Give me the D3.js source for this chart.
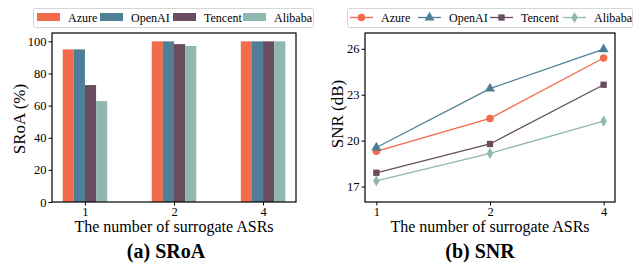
<!DOCTYPE html>
<html>
<head>
<meta charset="utf-8">
<script src="https://cdn.jsdelivr.net/npm/d3@7"></script>
<style>
    body { margin: 0; background: #fff; }
    svg text { font-family: "Liberation Serif", "DejaVu Serif", serif; fill: #000; }
</style>
</head>
<body>
<svg id="chart" width="639" height="263"></svg>
<script>
// data
var groups = ["1", "2", "4"];
var services = ["Azure", "OpenAI", "Tencent", "Alibaba"];
var colors = ["#f26b4a", "#4e7f96", "#694d5e", "#91b8ae"];
var sroa = [
    [95, 100, 100],    // Azure
    [95, 100, 100],    // OpenAI
    [72.8, 98.3, 100], // Tencent
    [62.8, 97.1, 100]  // Alibaba
];
var snr = [
    [19.3, 21.45, 25.4],
    [19.55, 23.4, 25.97],
    [17.9, 19.78, 23.65],
    [17.37, 19.17, 21.27]
];
var sroaTicks = [0, 20, 40, 60, 80, 100];
var snrTicks = [17, 20, 23, 26];
var markers = [d3.symbolCircle, d3.symbolTriangle, d3.symbolSquare, d3.symbolDiamond];
var markerSize = [44, 44, 40, 36];

var svg = d3.select("svg#chart");
var serif = '"Liberation Serif", "DejaVu Serif", serif';

function axesFrame(g, x0, x1, y0, y1) {
    g.append("rect")
        .attr("x", x0).attr("y", y0)
        .attr("width", x1 - x0).attr("height", y1 - y0)
        .attr("fill", "none")
        .attr("stroke", "#000")
        .attr("stroke-width", 1.2);
}

function styleAxis(sel) {
    sel.attr("font-family", serif);
    sel.select(".domain").remove();
    sel.selectAll(".tick line").attr("stroke", "#000").attr("stroke-width", 1);
    sel.selectAll(".tick text")
        .style("font-family", serif)
        .style("font-size", "12.5px");
}

// ---------- (a) SRoA ----------
var ga = svg.append("g");
var ax0 = 52, ax1 = 296, ay0 = 33, ay1 = 202;

var xa = d3.scaleLinear().domain([-0.37, 2.37]).range([ax0, ax1]);
var ya = d3.scaleLinear().domain([0, 105.2]).range([ay1, ay0]);
var bw = (xa(1) - xa(0)) * 0.125;

services.forEach(function (s, si) {
    ga.append("g")
        .attr("fill", colors[si])
        .selectAll("rect")
        .data(sroa[si])
        .enter().append("rect")
        .attr("x", function (d, i) { return xa(i) - 2 * bw + si * bw; })
        .attr("y", function (d) { return ya(d); })
        .attr("width", bw)
        .attr("height", function (d) { return ya(0) - ya(d); });
});

ga.append("g")
    .attr("transform", "translate(0," + ay1 + ")")
    .call(d3.axisBottom(xa).tickValues([0, 1, 2]).tickSize(3.5).tickPadding(1.5)
        .tickFormat(function (d) { return groups[d]; }))
    .call(styleAxis);

ga.append("g")
    .attr("transform", "translate(" + ax0 + ",0)")
    .call(d3.axisLeft(ya).tickValues(sroaTicks).tickSize(3.5).tickPadding(2))
    .call(styleAxis);

axesFrame(ga, ax0, ax1, ay0, ay1);

ga.append("text")
    .attr("transform", "translate(25,119) rotate(-90)")
    .style("text-anchor", "middle")
    .style("font-size", "17px")
    .text("SRoA (%)");

ga.append("text")
    .attr("x", (ax0 + ax1) / 2).attr("y", 231.5)
    .style("text-anchor", "middle")
    .style("font-size", "16px")
    .text("The number of surrogate ASRs");

ga.append("text")
    .attr("x", 166).attr("y", 257.5)
    .style("text-anchor", "middle")
    .style("font-size", "20px")
    .style("font-weight", "bold")
    .text("(a) SRoA");

// legend a
var la = ga.append("g");
la.append("rect")
    .attr("x", 33.5).attr("y", 8.5).attr("width", 280).attr("height", 19)
    .attr("rx", 2).attr("fill", "#fff").attr("stroke", "#d6d6d6");
var laX = [37, 100, 173, 243];
services.forEach(function (s, si) {
    la.append("rect")
        .attr("x", laX[si]).attr("y", 13).attr("width", 23).attr("height", 8)
        .attr("fill", colors[si]);
    la.append("text")
        .attr("x", laX[si] + 31).attr("y", 21.5)
        .style("font-size", "12px")
        .text(s);
});

// ---------- (b) SNR ----------
var gb = svg.append("g");
var bx0 = 365, bx1 = 615, by0 = 33, by1 = 202;

var xb = d3.scaleLinear().domain([-0.1, 2.1]).range([bx0, bx1]);
var yb = d3.scaleLinear().domain([15.99, 27.03]).range([by1, by0]);

var line = d3.line()
    .x(function (d, i) { return xb(i); })
    .y(function (d) { return yb(d); });

services.forEach(function (s, si) {
    var sg = gb.append("g");
    sg.append("path")
        .datum(snr[si])
        .attr("d", line)
        .attr("fill", "none")
        .attr("stroke", colors[si])
        .attr("stroke-width", 1.3);
    sg.selectAll("path.m")
        .data(snr[si])
        .enter().append("path")
        .attr("class", "m")
        .attr("transform", function (d, i) { return "translate(" + xb(i) + "," + yb(d) + ")"; })
        .attr("d", d3.symbol().type(markers[si]).size(markerSize[si]))
        .attr("fill", colors[si]);
});

gb.append("g")
    .attr("transform", "translate(0," + by1 + ")")
    .call(d3.axisBottom(xb).tickValues([0, 1, 2]).tickSize(3.5).tickPadding(1.5)
        .tickFormat(function (d) { return groups[d]; }))
    .call(styleAxis);

gb.append("g")
    .attr("transform", "translate(" + bx0 + ",0)")
    .call(d3.axisLeft(yb).tickValues(snrTicks).tickSize(3.5).tickPadding(2))
    .call(styleAxis);

axesFrame(gb, bx0, bx1, by0, by1);

gb.append("text")
    .attr("transform", "translate(343,114) rotate(-90)")
    .style("text-anchor", "middle")
    .style("font-size", "17px")
    .text("SNR (dB)");

gb.append("text")
    .attr("x", (bx0 + bx1) / 2).attr("y", 231.5)
    .style("text-anchor", "middle")
    .style("font-size", "16px")
    .text("The number of surrogate ASRs");

gb.append("text")
    .attr("x", 480).attr("y", 257.5)
    .style("text-anchor", "middle")
    .style("font-size", "20px")
    .style("font-weight", "bold")
    .text("(b) SNR");

// legend b
var lb = gb.append("g");
lb.append("rect")
    .attr("x", 347.5).attr("y", 8.5).attr("width", 285).attr("height", 19)
    .attr("rx", 2).attr("fill", "#fff").attr("stroke", "#d6d6d6");
var lbX = [350, 418, 490, 563];
services.forEach(function (s, si) {
    lb.append("line")
        .attr("x1", lbX[si]).attr("x2", lbX[si] + 23)
        .attr("y1", 17.5).attr("y2", 17.5)
        .attr("stroke", colors[si]).attr("stroke-width", 1.3);
    lb.append("path")
        .attr("transform", "translate(" + (lbX[si] + 11.5) + ",17.5)")
        .attr("d", d3.symbol().type(markers[si]).size(markerSize[si]))
        .attr("fill", colors[si]);
    lb.append("text")
        .attr("x", lbX[si] + 31).attr("y", 21.5)
        .style("font-size", "12px")
        .text(s);
});
</script>
</body>
</html>
